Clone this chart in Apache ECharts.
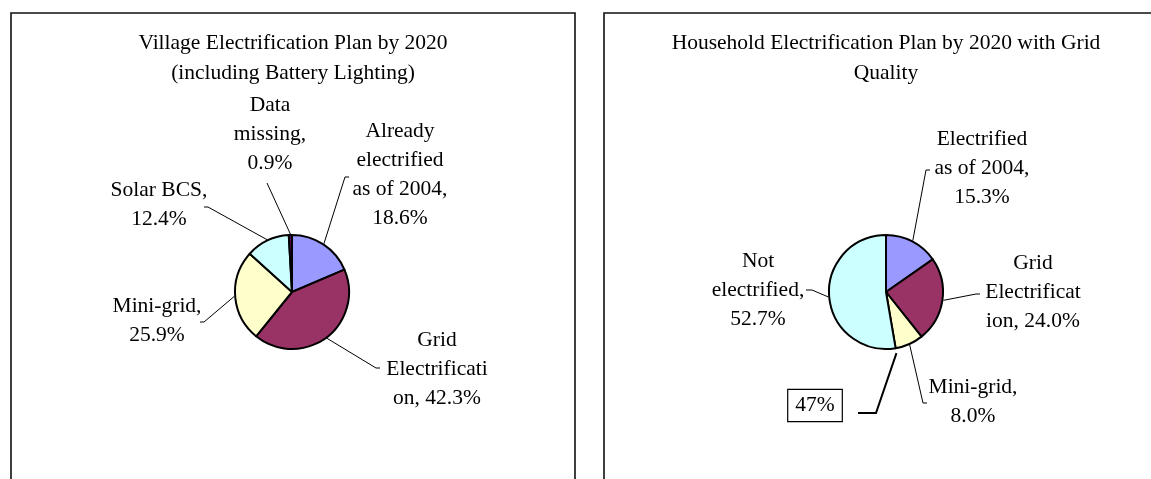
<!DOCTYPE html>
<html>
<head>
<meta charset="utf-8">
<script src="https://cdn.jsdelivr.net/npm/echarts@6/dist/echarts.min.js"></script>
<style>
  html, body { margin: 0; padding: 0; background: #fff; }
  #chart { width: 1151px; height: 479px; }
</style>
</head>
<body>
<div id="chart"></div>
<script>
// Village electrification plan (share of villages, %)
const villageTitle = 'Village Electrification Plan by 2020\n(including Battery Lighting)';
const villageCategories = ['Already electrified as of 2004', 'Grid Electrification', 'Mini-grid', 'Solar BCS', 'Data missing'];
const villageLabels = ['Already\nelectrified\nas of 2004,\n{v}', 'Grid\nElectrificati\non, {v}', 'Mini-grid,\n{v}', 'Solar BCS,\n{v}', 'Data\nmissing,\n{v}'];
const villageValues = [18.6, 42.3, 25.9, 12.4, 0.9];

// Household electrification plan (share of households, %)
const householdTitle = 'Household Electrification Plan by 2020 with Grid\nQuality';
const householdCategories = ['Electrified as of 2004', 'Grid Electrification', 'Mini-grid', 'Not electrified'];
const householdLabels = ['Electrified\nas of 2004,\n{v}', 'Grid\nElectrificat\nion, {v}', 'Mini-grid,\n{v}', 'Not\nelectrified,\n{v}'];
const householdValues = [15.3, 24.0, 8.0, 52.7];

const villageColors = ['#9999FF', '#993366', '#FFFFCC', '#CCFFFF', '#660066'];
const householdColors = ['#9999FF', '#993366', '#FFFFCC', '#CCFFFF'];

// layout
const FONT = '"Liberation Serif", "Times New Roman", serif';
const FS = 21.5;
const R = 57;
const leftCenter = [292, 292];
const rightCenter = [886, 292];

// label anchor points (centre of each text block)
const villageLabelPos = [[400, 175], [437, 369], [157, 321], [159, 205], [270, 134]];
const householdLabelPos = [[982, 168], [1033, 292], [973, 402], [758, 290]];
// leader line ends next to each label: [bend, hook end]
const villageLeaderEnds = [[[345, 177], [349, 177]], [[376, 368], [380, 368]], [[204, 322], [200, 322]], [[208, 207], [204, 207]], [[267, 183]]];
const householdLeaderEnds = [[[926, 170], [930, 170]], [[976, 294], [980, 294]], [[923, 403], [927, 403]], [[812, 290], [806, 290]]];

function fmt(v) { return v.toFixed(1) + '%'; }

// point just outside the rim at the middle angle of slice i (clockwise from 12 o'clock)
function rimPoint(values, i, center) {
  const total = values.reduce((a, b) => a + b, 0);
  const before = values.slice(0, i).reduce((a, b) => a + b, 0);
  const a = (before + values[i] / 2) / total * 2 * Math.PI;
  return [center[0] + (R + 1) * Math.sin(a), center[1] - (R + 1) * Math.cos(a)];
}

function pieSeries(names, labels, values, colors, center, labelPos, leaderEnds) {
  return {
    type: 'pie',
    center: center,
    radius: R,
    startAngle: 90,
    clockwise: true,
    avoidLabelOverlap: false,
    animation: false,
    silent: true,
    data: names.map((n, i) => ({
      name: n,
      value: values[i],
      itemStyle: { color: colors[i] },
      label: { formatter: labels[i].replace('{v}', fmt(values[i])) }
    })),
    itemStyle: { borderColor: '#000', borderWidth: 2 },
    label: {
      show: true,
      position: 'outside',
      fontFamily: FONT,
      fontSize: FS,
      lineHeight: 29,
      color: '#000',
      align: 'center'
    },
    labelLine: {
      show: true,
      length: 8,
      length2: 8,
      smooth: false,
      lineStyle: { color: '#000', width: 1 }
    },
    labelLayout: function (p) {
      const pos = labelPos[p.dataIndex];
      return {
        x: pos[0], y: pos[1], align: 'center', verticalAlign: 'middle',
        labelLinePoints: [rimPoint(values, p.dataIndex, center)].concat(leaderEnds[p.dataIndex])
      };
    }
  };
}

// callout: combined electrified share pointing at the boundary with "Not electrified"
const electrifiedShare = householdValues.slice(0, 3).reduce((a, b) => a + b, 0);
const boundaryAngle = electrifiedShare / householdValues.reduce((a, b) => a + b, 0) * 2 * Math.PI;
const tip = [
  rightCenter[0] + (R + 5) * Math.sin(boundaryAngle),
  rightCenter[1] - (R + 5) * Math.cos(boundaryAngle)
];

const chart = echarts.init(document.getElementById('chart'), null, { renderer: 'canvas' });
chart.setOption({
  backgroundColor: '#fff',
  animation: false,
  title: [
    {
      text: villageTitle,
      left: 293, top: 28, padding: 0, textAlign: 'center',
      textStyle: { fontFamily: FONT, fontSize: FS, fontWeight: 'normal', color: '#000', lineHeight: 30 }
    },
    {
      text: householdTitle,
      left: 886, top: 28, padding: 0, textAlign: 'center',
      textStyle: { fontFamily: FONT, fontSize: FS, fontWeight: 'normal', color: '#000', lineHeight: 30 }
    }
  ],
  graphic: [
    { type: 'rect', shape: { x: 11, y: 13, width: 564, height: 520 }, style: { fill: 'none', stroke: '#111', lineWidth: 1.6 }, silent: true, z: -1 },
    { type: 'rect', shape: { x: 604, y: 13, width: 564, height: 520 }, style: { fill: 'none', stroke: '#111', lineWidth: 1.6 }, silent: true, z: -1 },
    {
      type: 'text', x: 815, y: 405.5, silent: true,
      style: {
        text: Math.round(electrifiedShare) + '%',
        font: FS + 'px ' + FONT, fill: '#000',
        align: 'center', verticalAlign: 'middle',
        borderColor: '#000', borderWidth: 1.2, padding: [5, 7, 4, 7], backgroundColor: '#fff'
      }
    },
    {
      type: 'polyline', silent: true,
      shape: { points: [[858, 413], [876, 413], tip] },
      style: { stroke: '#000', lineWidth: 2, fill: 'none' }
    }
  ],
  series: [
    pieSeries(villageCategories, villageLabels, villageValues, villageColors, leftCenter, villageLabelPos, villageLeaderEnds),
    pieSeries(householdCategories, householdLabels, householdValues, householdColors, rightCenter, householdLabelPos, householdLeaderEnds)
  ]
});
</script>
</body>
</html>
